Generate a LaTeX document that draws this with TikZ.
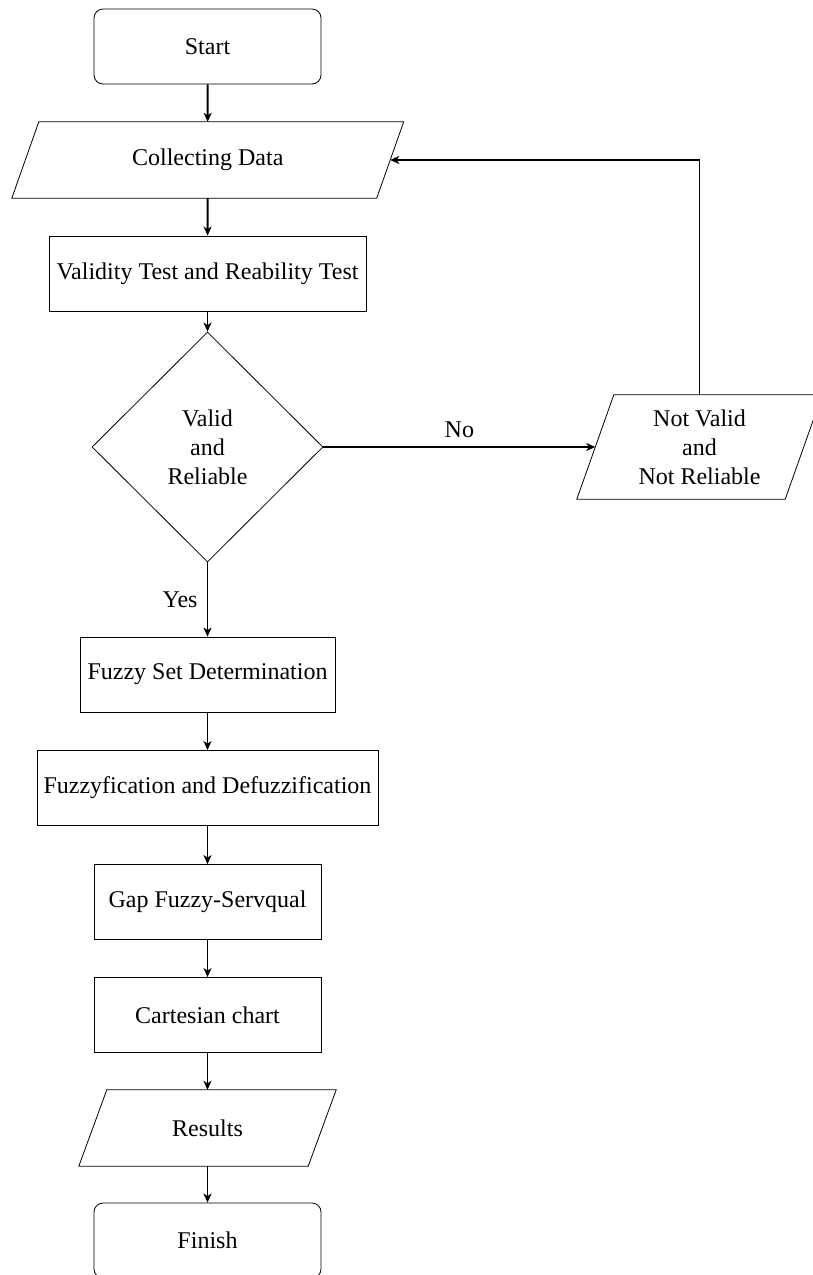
\documentclass[tikz,border=0pt]{standalone}
\usepackage{fontspec}
\setmainfont{Liberation Serif}
\usetikzlibrary{arrows.meta,shapes.geometric}
\begin{document}
\begin{tikzpicture}[x=1pt,y=-1pt,
  every node/.style={font=\fontsize{24}{29}\selectfont, inner sep=0pt, align=center},
  term/.style={draw, line width=0.8pt, rounded corners=9pt, minimum width=227pt, minimum height=75pt},
  proc/.style={draw, line width=0.8pt, minimum height=75pt},
  io/.style={minimum height=76pt},
  dec/.style={draw, diamond, line width=0.8pt, minimum width=231pt, minimum height=230pt},
  flow/.style={line width=1.9pt, -{Stealth[length=9pt,width=8pt,inset=2.5pt]}},
  para/.style={line width=0.8pt, line join=miter}
]
\useasboundingbox (0,0) rectangle (813,1275);
\clip (0,0) rectangle (813,1275);

\node[term] (start) at (207.5,46.5) {Start};

\node[io, minimum width=364.5pt] (collect) at (207.75,160) {Collecting Data};
\draw[para] ([xshift=13.5pt]collect.north west) -- ([xshift=13.5pt]collect.north east)
  -- ([xshift=-13.5pt]collect.south east) -- ([xshift=-13.5pt]collect.south west) -- cycle;

\node[proc, minimum width=317pt] (valid) at (207.5,273.5) {Validity Test and Reability Test};

\node[dec] (dec) at (207.5,447) {Valid\\and\\Reliable};

\node[io, minimum width=208pt, minimum height=104pt] (nv) at (699.5,447) {Not Valid\\and\\Not Reliable};
\draw[para] ([xshift=18.5pt]nv.north west) -- ([xshift=18.5pt]nv.north east)
  -- ([xshift=-18.5pt]nv.south east) -- ([xshift=-18.5pt]nv.south west) -- cycle;

\node[proc, minimum width=255pt] (fset) at (207.5,674.5) {Fuzzy Set Determination};
\node[proc, minimum width=341pt] (fuzz) at (207.5,788) {Fuzzyfication and Defuzzification};
\node[proc, minimum width=227pt] (gap) at (207.5,902) {Gap Fuzzy-Servqual};
\node[proc, minimum width=227pt] (cart) at (207.5,1015) {Cartesian chart};

\node[io, minimum width=229pt] (res) at (207.5,1128) {Results};
\draw[para] ([xshift=14pt]res.north west) -- ([xshift=14pt]res.north east)
  -- ([xshift=-14pt]res.south east) -- ([xshift=-14pt]res.south west) -- cycle;

\node[term] (fin) at (207.5,1240.5) {Finish};

\draw[flow] (start) -- (collect);
\draw[flow] (collect) -- (valid);
\draw[flow] (valid) -- (dec);
\draw[flow] (dec) -- node[midway, above=8pt] {No} (nv);
\draw[flow] (dec) -- node[midway, left=9pt] {Yes} (fset);
\draw[flow] (nv.north) -- (nv.north |- collect.east) -- (collect.east);
\draw[flow] (fset) -- (fuzz);
\draw[flow] (fuzz) -- (gap);
\draw[flow] (gap) -- (cart);
\draw[flow] (cart) -- (res);
\draw[flow] (res) -- (fin);
\end{tikzpicture}
\end{document}
